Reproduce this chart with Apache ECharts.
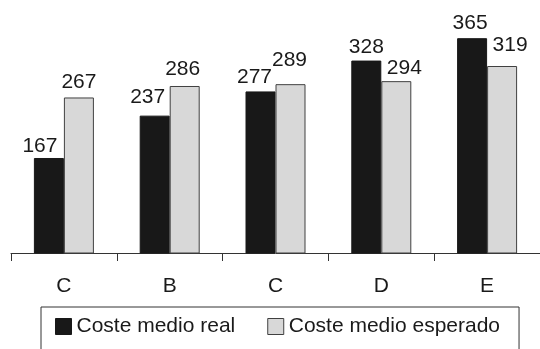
<!DOCTYPE html>
<html>
<head>
<meta charset="utf-8">
<script src="https://cdn.jsdelivr.net/npm/echarts@6/dist/echarts.min.js"></script>
<style>
  html, body { margin: 0; padding: 0; background: #fff; }
  #chart { width: 540px; height: 349px; }
</style>
</head>
<body>
<div id="chart"></div>
<script>
// Categories and the two cost series
const categories = ['C', 'B', 'C', 'D', 'E'];
const costeReal = [167, 237, 277, 328, 365];
const costeEsperado = [267, 286, 289, 294, 319];
const seriesNames = ['Coste medio real', 'Coste medio esperado'];

// Per-bar nudges for the value labels so neighbouring numbers don't collide
const realLabelShift = [[-9, 4], [-7, -3], [-6, 1], [0, 2], [-2, 1]];
const esperadoLabelShift = [[0, 0], [-2, -1], [-1, -8], [8, 3], [8, -5]];

const FONT = '"Liberation Sans", Arial, sans-serif';
const TEXT = '#1a1a1a';

function withLabels(values, shifts) {
  return values.map((v, i) => ({
    value: v,
    label: { offset: shifts[i] }
  }));
}

const chart = echarts.init(document.getElementById('chart'), null, { renderer: 'canvas' });

chart.setOption({
  animation: false,
  backgroundColor: '#ffffff',
  textStyle: { fontFamily: FONT },
  grid: { left: 11, right: -11, top: 17, bottom: 96 },
  xAxis: {
    type: 'category',
    data: categories,
    axisLine: { show: true, lineStyle: { color: '#333', width: 1 } },
    axisTick: { show: true, length: 8, lineStyle: { color: '#333', width: 1 } },
    axisLabel: { margin: 23, fontSize: 21, color: TEXT, fontFamily: FONT }
  },
  yAxis: {
    type: 'value',
    min: 10,
    max: 400,
    show: false,
    splitLine: { show: false }
  },
  legend: {
    left: 41,
    top: 307,
    orient: 'horizontal',
    padding: [9, 19, 30, 14],
    borderColor: '#333',
    borderWidth: 1,
    itemWidth: 16,
    itemHeight: 16,
    itemGap: 32,
    icon: 'rect',
    textStyle: { fontSize: 21, color: TEXT, fontFamily: FONT, padding: [0, 0, 0, 0] },
    data: [
      { name: seriesNames[0], itemStyle: { color: '#181818', borderColor: '#181818', borderWidth: 1 } },
      { name: seriesNames[1], itemStyle: { color: '#d8d8d8', borderColor: '#404040', borderWidth: 1 } }
    ]
  },
  series: [
    {
      name: seriesNames[0],
      type: 'bar',
      barWidth: 30,
      barGap: '0%',
      itemStyle: { color: '#181818', borderColor: '#181818', borderWidth: 1 },
      label: { show: true, position: 'top', distance: 5, fontSize: 21, color: TEXT, fontFamily: FONT },
      data: withLabels(costeReal, realLabelShift)
    },
    {
      name: seriesNames[1],
      type: 'bar',
      barWidth: 30,
      itemStyle: { color: '#d8d8d8', borderColor: '#404040', borderWidth: 1 },
      label: { show: true, position: 'top', distance: 5, fontSize: 21, color: TEXT, fontFamily: FONT },
      data: withLabels(costeEsperado, esperadoLabelShift)
    }
  ]
});
</script>
</body>
</html>
